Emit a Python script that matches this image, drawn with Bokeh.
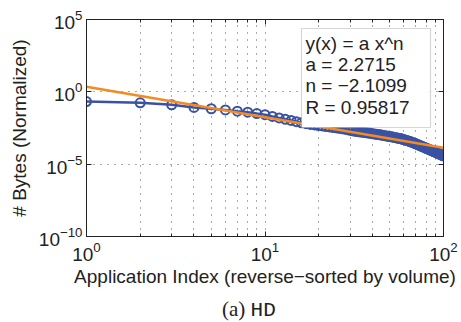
from bokeh.plotting import figure
from bokeh.layouts import column
from bokeh.models import (Range1d, FixedTicker, LogAxis, Label, BoxAnnotation, ColumnDataSource,
                          CustomJSTickFormatter, Div)
from bokeh.embed import file_html
from bokeh.resources import INLINE

# ---------------- data ----------------
app_index = list(range(1, 101))
bytes_norm = [
    2.14e-1, 1.74e-1, 1.26e-1, 8.32e-2, 6.76e-2, 5.62e-2, 4.57e-2, 3.89e-2, 3.16e-2, 2.63e-2,
    2.00e-2, 1.58e-2, 1.26e-2, 1.05e-2, 8.71e-3, 7.24e-3, 6.31e-3, 5.62e-3, 5.13e-3, 4.68e-3,
    4.37e-3, 3.98e-3, 3.72e-3, 3.47e-3, 3.24e-3, 3.02e-3, 2.82e-3, 2.63e-3, 2.40e-3, 2.19e-3,
    2.04e-3, 1.86e-3, 1.78e-3, 1.70e-3, 1.62e-3, 1.55e-3, 1.48e-3, 1.41e-3, 1.35e-3, 1.29e-3,
    1.23e-3, 1.17e-3, 1.12e-3, 1.07e-3, 1.02e-3, 9.77e-4, 9.33e-4, 8.91e-4, 8.51e-4, 8.13e-4,
    7.76e-4, 7.41e-4, 7.08e-4, 6.76e-4, 6.46e-4, 6.17e-4, 5.89e-4, 5.62e-4, 5.25e-4, 4.90e-4,
    4.68e-4, 4.37e-4, 4.17e-4, 3.89e-4, 3.63e-4, 3.39e-4, 3.16e-4, 2.95e-4, 2.75e-4, 2.57e-4,
    2.40e-4, 2.19e-4, 2.04e-4, 1.91e-4, 1.78e-4, 1.66e-4, 1.55e-4, 1.45e-4, 1.35e-4, 1.26e-4,
    1.20e-4, 1.12e-4, 1.05e-4, 9.77e-5, 9.12e-5, 8.51e-5, 7.94e-5, 7.59e-5, 7.08e-5, 6.76e-5,
    6.31e-5, 6.03e-5, 5.62e-5, 5.37e-5, 5.01e-5, 4.79e-5, 4.47e-5, 4.27e-5, 3.98e-5, 3.72e-5,
]
fit_a = 2.2715
fit_n = -2.1099
fit_R = 0.95817
fit_x = [1, 100]

x_ticks = [1, 10, 100]
x_minor_ticks = [2, 3, 4, 5, 6, 7, 8, 9, 20, 30, 40, 50, 60, 70, 80, 90]
y_ticks = [1e-10, 1e-5, 1, 1e5]

legend_lines = ["y(x) = a x^n", "a = %.4f" % fit_a, "n = \u2212%.4f" % abs(fit_n), "R = %.5f" % fit_R]
x_label = "Application Index (reverse\u2212sorted by volume)"
y_label = "# Bytes (Normalized)"

# ---------------- style ----------------
FONT = "Liberation Sans"
BLUE = "#3a52a3"
ORANGE = "#f38b22"
TXT = "#222222"

fit_y = [fit_a * xv ** fit_n for xv in fit_x]
src = ColumnDataSource(dict(x=app_index, y=bytes_norm))
fit_src = ColumnDataSource(dict(x=fit_x, y=fit_y))

p = figure(width=461, height=292, x_axis_type="log", y_axis_type="log",
           x_range=Range1d(1, 100), y_range=Range1d(1e-10, 1e5),
           output_backend="svg", toolbar_location=None,
           min_border_left=86, min_border_right=18, min_border_top=19, min_border_bottom=56)
p.background_fill_color = "white"
p.border_fill_color = "white"
p.outline_line_color = "#222222"
p.outline_line_width = 1

xt = FixedTicker(ticks=x_ticks, minor_ticks=x_minor_ticks)
yt = FixedTicker(ticks=y_ticks, minor_ticks=[])

def style_axis(ax, ticker, show_labels):
    ax.ticker = ticker
    ax.axis_line_color = "#222222"
    ax.major_tick_in = 5
    ax.major_tick_out = 0
    ax.minor_tick_in = 3
    ax.minor_tick_out = 0
    ax.major_tick_line_color = "#222222"
    ax.minor_tick_line_color = "#222222"
    if show_labels:
        ax.major_label_text_font = FONT
        ax.major_label_text_font_size = "19px"
        ax.major_label_text_color = TXT
        ax.axis_label_text_font = FONT
        ax.axis_label_text_font_size = "19px"
        ax.axis_label_text_font_style = "normal"
        ax.axis_label_text_color = TXT
    else:
        ax.formatter = CustomJSTickFormatter(code="return '';")
        ax.major_label_text_font_size = "1px"
        ax.major_label_standoff = 0

style_axis(p.xaxis[0], xt, True)
style_axis(p.yaxis[0], yt, True)
p.xaxis[0].axis_label = x_label
p.yaxis[0].axis_label = y_label
p.xaxis[0].major_label_standoff = 5
p.xaxis[0].axis_label_standoff = 2
p.yaxis[0].major_label_standoff = 4
p.yaxis[0].axis_label_standoff = 6

top_ax = LogAxis()
right_ax = LogAxis()
style_axis(top_ax, FixedTicker(ticks=x_ticks, minor_ticks=x_minor_ticks), False)
style_axis(right_ax, FixedTicker(ticks=y_ticks, minor_ticks=[]), False)
p.add_layout(top_ax, "above")
p.add_layout(right_ax, "right")

p.xgrid.ticker = xt
p.ygrid.ticker = yt
for g in (p.xgrid[0], p.ygrid[0]):
    g.grid_line_color = "#555555"
    g.grid_line_dash = "1 6"
    g.grid_line_width = 1
p.xgrid.minor_grid_line_color = "#555555"
p.xgrid.minor_grid_line_dash = "1 6"
p.xgrid.minor_grid_line_width = 1

# ---------------- data marks ----------------
p.line("x", "y", source=src, line_color=BLUE, line_width=2.5)
p.scatter("x", "y", source=src, marker="circle", size=9, line_color=BLUE, line_width=2,
          fill_color=None)
p.line("x", "y", source=fit_src, line_color=ORANGE, line_width=2.5)

# ---------------- fit legend box ----------------
p.add_layout(BoxAnnotation(left=215, right=344, top=208, bottom=109,
                           left_units="screen", right_units="screen",
                           top_units="screen", bottom_units="screen",
                           fill_color="white", fill_alpha=1.0,
                           line_color="#777777", line_width=1.2))
for i, s in enumerate(legend_lines):
    p.add_layout(Label(x=219, y=193 - 21.2 * i, x_units="screen", y_units="screen", text=s,
                       text_align="left", text_baseline="middle", text_font=FONT,
                       text_font_size="19px", text_color=TXT))

# ---------------- caption ----------------
caption = Div(
    text='<span style="font-family:\'Liberation Serif\'; font-size:21px">(a)</span>'
         '<span style="font-size:19px">&nbsp;</span>'
         '<span style="font-family:\'Liberation Mono\'; font-size:21px">HD</span>',
    width=461, height=30,
    styles={"font-size": "19px", "line-height": "24px", "padding-left": "217px",
            "color": TXT, "overflow": "visible", "white-space": "nowrap"})

layout = column(p, caption, spacing=0)
open("out.html", "w").write(file_html(layout, INLINE))
